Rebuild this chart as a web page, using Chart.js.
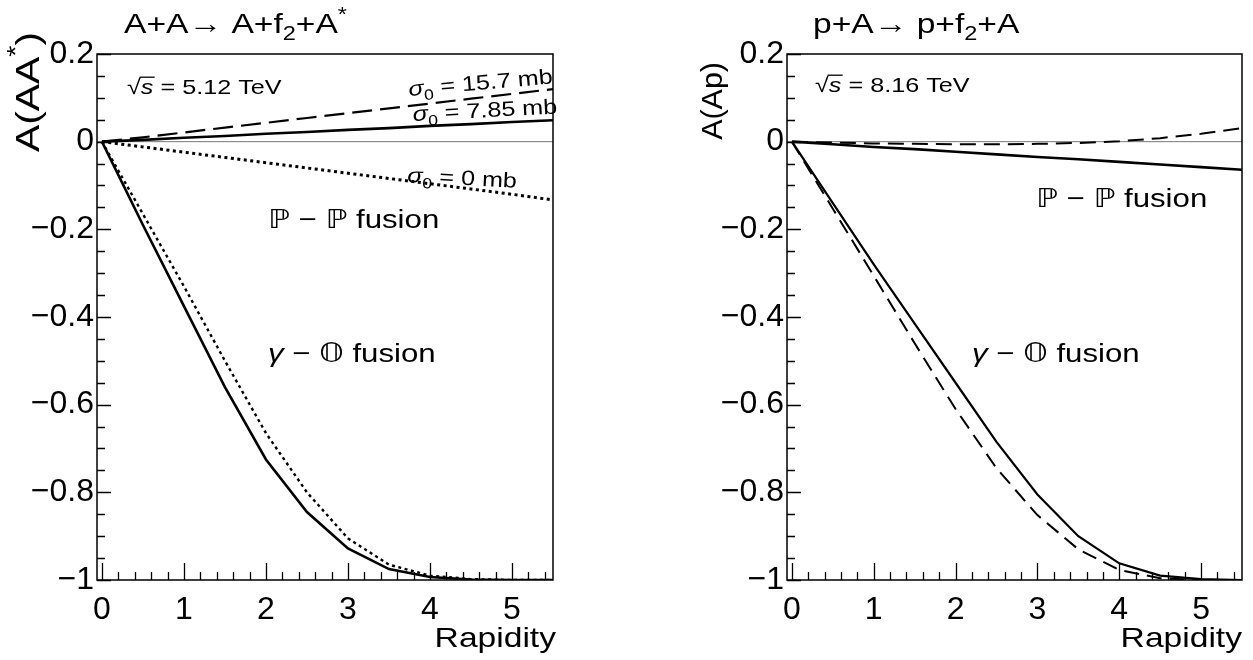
<!DOCTYPE html>
<html>
<head>
<meta charset="utf-8">
<script src="https://cdn.jsdelivr.net/npm/chart.js@4.4.1/dist/chart.umd.min.js"></script>
<style>
  html, body { margin: 0; padding: 0; background: #fff; }
  #wrap { position: relative; width: 1253px; height: 660px; }
  canvas { position: absolute; top: 0; }
</style>
</head>
<body>
<div id="wrap">
  <canvas id="left" width="626" height="660" style="left:0"></canvas>
  <canvas id="right" width="627" height="660" style="left:626px"></canvas>
</div>
<script>
// axis ticks
const xTicks = [0, 1, 2, 3, 4, 5];
const xTickLabels = ["0", "1", "2", "3", "4", "5"];
const yTicks = [-1, -0.8, -0.6, -0.4, -0.2, 0, 0.2];
const yTickLabels = ["\u22121", "\u22120.8", "\u22120.6", "\u22120.4", "\u22120.2", "0", "0.2"];

// rapidity grid of the curves
const rapidity = [0, 0.5, 1, 1.5, 2, 2.5, 3, 3.5, 4, 4.5, 5, 5.5];

// A+A -> A+f2+A*, sqrt(s) = 5.12 TeV
const aaPomSigma157 = [0, 0.010, 0.021, 0.032, 0.043, 0.054, 0.065, 0.076, 0.087, 0.098, 0.109, 0.120];
const aaPomSigma785 = [0, 0.004, 0.009, 0.013, 0.018, 0.022, 0.027, 0.031, 0.036, 0.040, 0.045, 0.049];
const aaPomSigma0 = [0, -0.012, -0.024, -0.036, -0.048, -0.060, -0.072, -0.084, -0.096, -0.108, -0.120, -0.133];
const aaPhotSolid = [0, -0.19, -0.375, -0.56, -0.725, -0.845, -0.928, -0.975, -0.993, -0.999, -1, -1];
const aaPhotDotted = [0, -0.165, -0.33, -0.5, -0.665, -0.8, -0.905, -0.965, -0.99, -0.998, -1, -1];

// p+A -> p+f2+A, sqrt(s) = 8.16 TeV
const paPomSolid = [0, -0.006, -0.012, -0.017, -0.023, -0.029, -0.035, -0.040, -0.046, -0.052, -0.058, -0.064];
const paPomDashed = [0, -0.002, -0.004, -0.005, -0.006, -0.006, -0.005, -0.003, 0.001, 0.008, 0.018, 0.031];
const paPhotSolid = [0, -0.14, -0.28, -0.415, -0.55, -0.685, -0.805, -0.9, -0.962, -0.99, -0.998, -1];
const paPhotDashed = [0, -0.153, -0.306, -0.46, -0.61, -0.745, -0.852, -0.93, -0.977, -0.996, -1, -1];

const FONT = "'Liberation Sans', 'DejaVu Sans', sans-serif";
const STRETCH = 1.2; // the original lettering is wider than Liberation Sans

function pts(ys) {
  return rapidity.map((x, i) => ({ x: x, y: ys[i] }));
}

function line(ys, width, dash) {
  return {
    data: pts(ys),
    borderColor: "#000",
    borderWidth: width,
    borderDash: dash || [],
    pointRadius: 0,
    fill: false,
    tension: 0
  };
}

// text with sub/superscripts
function drawRich(ctx, item) {
  const size = item.size;
  const font = (p) => {
    const s = p.sub || p.sup ? size * 0.7 : size;
    return (p.it ? "italic " : "") + s + "px " + FONT;
  };
  let total = 0;
  item.parts.forEach(p => { ctx.font = font(p); total += ctx.measureText(p.t).width; });
  ctx.save();
  ctx.translate(item.x, item.y);
  if (item.rot) ctx.rotate(item.rot * Math.PI / 180);
  ctx.scale(item.stretch || STRETCH, 1);
  ctx.fillStyle = "#000";
  ctx.textBaseline = "alphabetic";
  ctx.textAlign = "left";
  let cx = item.align === "right" ? -total : 0;
  item.parts.forEach(p => {
    ctx.font = font(p);
    const w = ctx.measureText(p.t).width;
    let dy = 0;
    if (p.sub) dy = size * 0.25;
    if (p.sup) dy = -size * 0.42;
    ctx.fillText(p.t, cx, dy);
    if (p.bar) {
      ctx.beginPath();
      ctx.lineWidth = 1.3;
      ctx.strokeStyle = "#000";
      ctx.moveTo(cx - 1, -size * 0.8);
      ctx.lineTo(cx + w + 1, -size * 0.8);
      ctx.stroke();
    }
    cx += w;
  });
  ctx.restore();
}

function framePlugin(texts) {
  return {
    id: "frame",
    beforeDatasetsDraw(chart) {
      const { ctx, chartArea: a, scales: { y } } = chart;
      const y0 = y.getPixelForValue(0);
      ctx.save();
      ctx.strokeStyle = "#777";
      ctx.lineWidth = 1;
      ctx.beginPath();
      ctx.moveTo(a.left, y0);
      ctx.lineTo(a.right, y0);
      ctx.stroke();
      ctx.restore();
    },
    afterDatasetsDraw(chart) {
      const { ctx, chartArea: a, scales: { x, y } } = chart;
      ctx.save();
      ctx.strokeStyle = "#000";
      ctx.lineWidth = 1.5;
      ctx.strokeRect(a.left, a.top, a.right - a.left, a.bottom - a.top);
      ctx.lineWidth = 1.3;
      ctx.beginPath();
      // y ticks, inward on the left side
      for (let v = -1; v <= 0.2001; v += 0.05) {
        const py = Math.round(y.getPixelForValue(v)) + 0.5;
        const major = yTicks.some(t => Math.abs(t - v) < 1e-6);
        ctx.moveTo(a.left, py);
        ctx.lineTo(a.left + (major ? 14 : 8), py);
      }
      // x ticks, inward on the bottom
      for (let v = 0; v <= 5.5001; v += 0.2) {
        const px = Math.round(x.getPixelForValue(v)) + 0.5;
        const major = xTicks.some(t => Math.abs(t - v) < 1e-6);
        ctx.moveTo(px, a.bottom);
        ctx.lineTo(px, a.bottom - (major ? 17 : 8));
      }
      ctx.stroke();
      ctx.restore();
      texts.forEach(t => drawRich(ctx, t));
    }
  };
}

function makeChart(id, datasets, yAxisWidth, padRight, texts) {
  return new Chart(document.getElementById(id), {
    type: "line",
    data: { datasets: datasets },
    options: {
      responsive: false,
      animation: false,
      devicePixelRatio: 1,
      layout: { padding: { left: 0, top: 54, right: padRight, bottom: 0 } },
      plugins: { legend: { display: false }, tooltip: { enabled: false } },
      scales: {
        x: {
          type: "linear",
          min: -0.06,
          max: 5.5,
          grid: { display: false, drawTicks: false },
          border: { display: false },
          afterBuildTicks: s => { s.ticks = xTicks.map(v => ({ value: v })); },
          afterFit: s => { s.height = 80; },
          ticks: {
            padding: 11,
            color: "#000",
            font: { family: FONT, size: 32 },
            maxRotation: 0,
            callback: (v) => xTickLabels[xTicks.indexOf(v)]
          }
        },
        y: {
          type: "linear",
          min: -1,
          max: 0.2,
          grid: { display: false, drawTicks: false },
          border: { display: false },
          afterBuildTicks: s => { s.ticks = yTicks.map(v => ({ value: v })); },
          afterFit: s => { s.width = yAxisWidth; },
          ticks: {
            padding: 3,
            color: "#000",
            font: { family: FONT, size: 32 },
            callback: (v) => {
              const i = yTicks.findIndex(t => Math.abs(t - v) < 1e-6);
              return yTickLabels[i];
            }
          }
        }
      }
    },
    plugins: [framePlugin(texts)]
  });
}

const leftTexts = [
  { x: 124, y: 33, size: 28, parts: [{ t: "A+A" }, { t: "\u2192" }, { t: " A+f" }, { t: "2", sub: true }, { t: "+A" }, { t: "*", sup: true }] },
  { x: 38.5, y: 32, size: 34, rot: -90, align: "right", parts: [{ t: "A(AA" }, { t: "*", sup: true }, { t: ")" }] },
  { x: 556, y: 647, size: 28, align: "right", parts: [{ t: "Rapidity" }] },
  { x: 127, y: 94, size: 21, parts: [{ t: "\u221A" }, { t: "s", it: true, bar: true }, { t: " = 5.12 TeV" }] },
  { x: 409, y: 96, size: 21, rot: -5, parts: [{ t: "\u03C3", it: true }, { t: "0", sub: true }, { t: " = 15.7 mb" }] },
  { x: 413, y: 121, size: 21, rot: -3, parts: [{ t: "\u03C3", it: true }, { t: "0", sub: true }, { t: " = 7.85 mb" }] },
  { x: 407, y: 182, size: 21, rot: 3, parts: [{ t: "\u03C3", it: true }, { t: "0", sub: true }, { t: " = 0 mb" }] },
  { x: 268, y: 228, size: 26, parts: [{ t: "\u2119 \u2212 \u2119 fusion" }] },
  { x: 268, y: 362, size: 26, parts: [{ t: "\u03B3", it: true }, { t: " \u2212 \uD835\uDD46 fusion" }] }
];

const rightTexts = [
  { x: 187, y: 33, size: 28, parts: [{ t: "p+A" }, { t: "\u2192" }, { t: " p+f" }, { t: "2", sub: true }, { t: "+A" }] },
  { x: 96, y: 62, size: 29, stretch: 1.05, rot: -90, align: "right", parts: [{ t: "A(Ap)" }] },
  { x: 616, y: 647, size: 28, align: "right", parts: [{ t: "Rapidity" }] },
  { x: 189, y: 92, size: 21, parts: [{ t: "\u221A" }, { t: "s", it: true, bar: true }, { t: " = 8.16 TeV" }] },
  { x: 410, y: 207, size: 26, parts: [{ t: "\u2119 \u2212 \u2119 fusion" }] },
  { x: 346, y: 362, size: 26, parts: [{ t: "\u03B3", it: true }, { t: " \u2212 \uD835\uDD46 fusion" }] }
];

makeChart("left", [
  line(aaPomSigma157, 2.2, [20, 8]),
  line(aaPomSigma785, 2.6),
  line(aaPomSigma0, 3, [3, 3.5]),
  line(aaPhotSolid, 2.6),
  line(aaPhotDotted, 2.4, [3, 3.5])
], 97, 73, leftTexts);

makeChart("right", [
  line(paPomSolid, 2.6),
  line(paPomDashed, 2, [16, 8]),
  line(paPhotSolid, 2.2),
  line(paPhotDashed, 2, [15, 8])
], 161, 11, rightTexts);
</script>
</body>
</html>
